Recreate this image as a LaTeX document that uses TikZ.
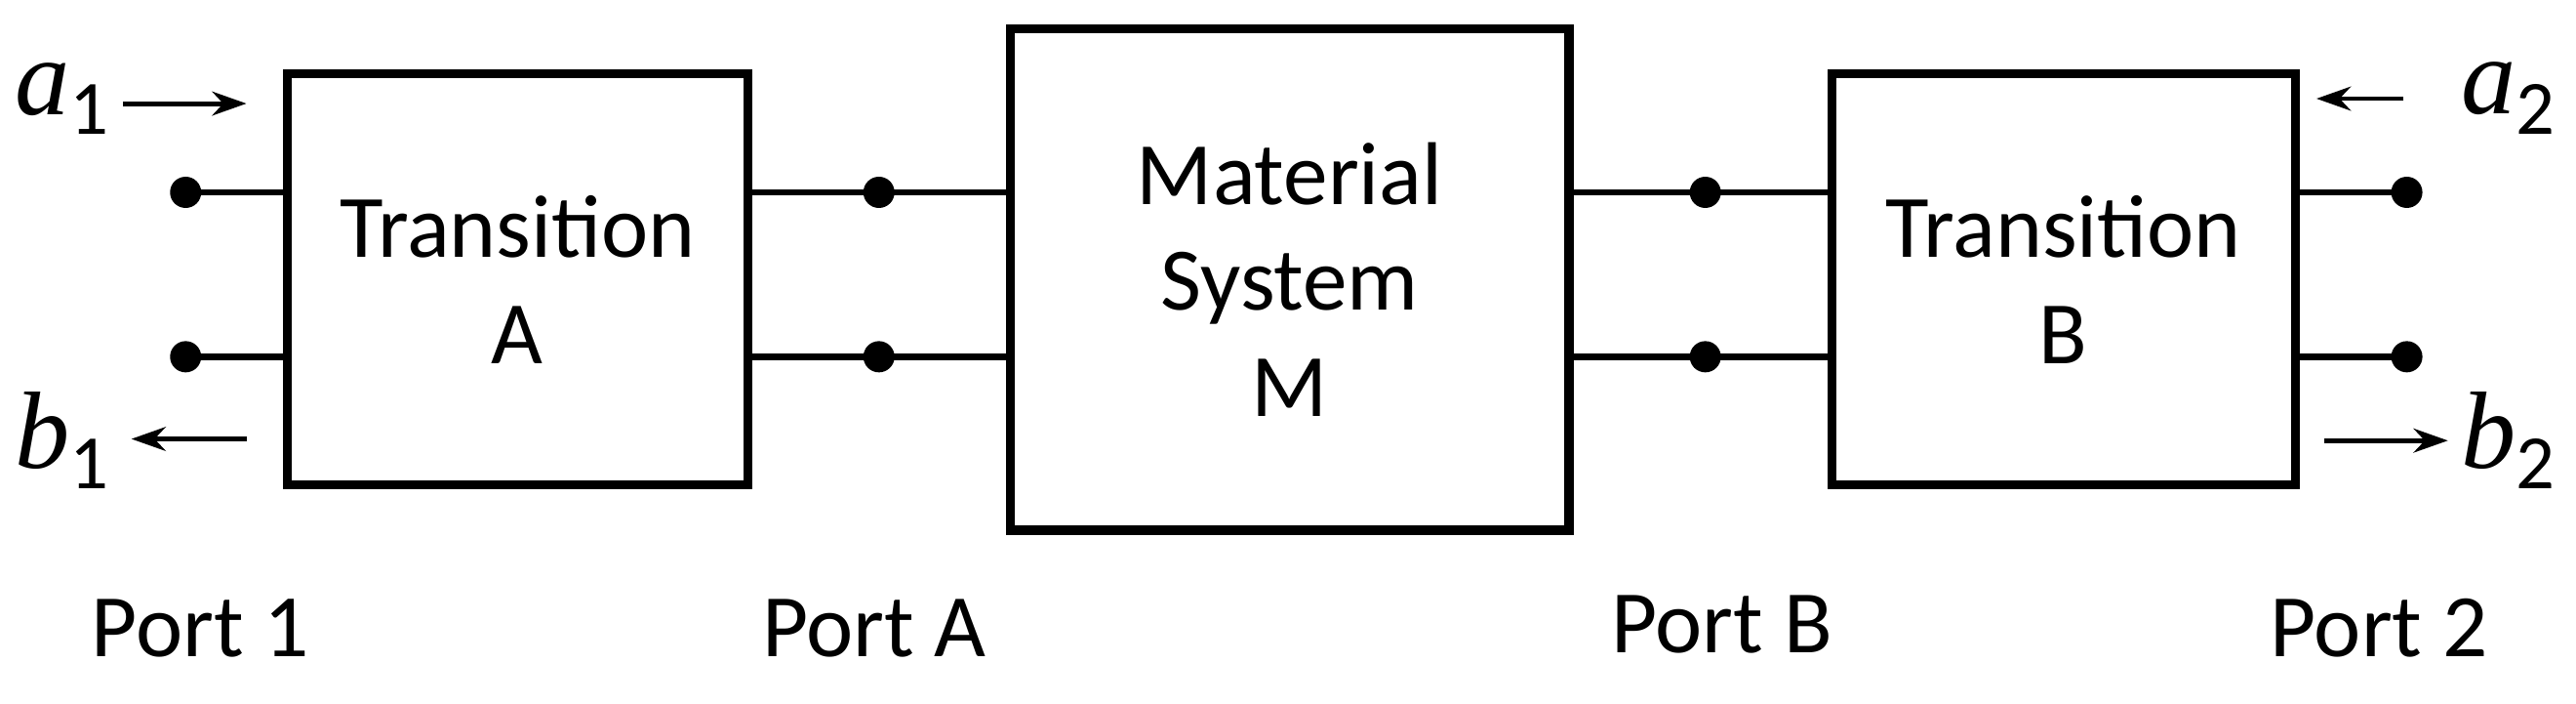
\documentclass[tikz,border=0pt]{standalone}
\usepackage{fontspec}
\setmainfont{Carlito}
\newfontfamily\symfont{Liberation Serif}
\usetikzlibrary{arrows.meta}
\begin{document}
\begin{tikzpicture}[x=0.01684cm,y=-0.01684cm,
  blk/.style={draw,line width=2.6pt,inner sep=0pt,font=\fontsize{26}{31}\selectfont,align=center},
  dotn/.style={circle,fill,inner sep=0pt,minimum size=0.32cm},
  wire/.style={line width=1.8pt},
  arr/.style={line width=1.4pt,-{Stealth[length=10pt,width=7pt]}},
  lbl/.style={font=\fontsize{26}{31}\selectfont},
  sym/.style={font=\symfont\fontsize{32}{36}\selectfont}]
\useasboundingbox (0,0) rectangle (1568,428);
\node[blk,minimum width=280*0.01684cm,minimum height=250*0.01684cm] (A) at (315,170) {Transition\\A};
\node[blk,minimum width=340*0.01684cm,minimum height=305*0.01684cm] (M) at (785,170) {Material\\System\\M};
\node[blk,minimum width=282*0.01684cm,minimum height=250*0.01684cm] (B) at (1256,170) {Transition\\B};
\node[dotn] (p1t) at (113,117) {};
\node[dotn] (p1b) at (113,217) {};
\node[dotn] (pat) at (535,117) {};
\node[dotn] (pab) at (535,217) {};
\node[dotn] (pbt) at (1038,117) {};
\node[dotn] (pbb) at (1038,217) {};
\node[dotn] (p2t) at (1465,117) {};
\node[dotn] (p2b) at (1465,217) {};
\draw[wire] (p1t.center) -- (p1t -| A.west);
\draw[wire] (p1b.center) -- (p1b -| A.west);
\draw[wire] (pat -| A.east) -- (pat -| M.west);
\draw[wire] (pab -| A.east) -- (pab -| M.west);
\draw[wire] (pbt -| M.east) -- (pbt -| B.west);
\draw[wire] (pbb -| M.east) -- (pbb -| B.west);
\draw[wire] (p2t.center) -- (p2t -| B.east);
\draw[wire] (p2b.center) -- (p2b -| B.east);
\node[sym] (a1) at (38,60) {\textit{a}$_{\mathrm{1}}$};
\node[sym] (b1) at (38,268) {\textit{b}$_{\mathrm{1}}$};
\node[sym] (a2) at (1527,60) {\textit{a}$_{\mathrm{2}}$};
\node[sym] (b2) at (1527,268) {\textit{b}$_{\mathrm{2}}$};
\coordinate (a1s) at (75,63); \coordinate (a1e) at (150,63);
\coordinate (b1s) at (150,267); \coordinate (b1e) at (80,267);
\coordinate (a2s) at (1463,60); \coordinate (a2e) at (1410,60);
\coordinate (b2s) at (1415,268); \coordinate (b2e) at (1490,268);
\draw[arr] (a1s) -- (a1e);
\draw[arr] (b1s) -- (b1e);
\draw[arr] (a2s) -- (a2e);
\draw[arr] (b2s) -- (b2e);
\node[lbl] (l1) at (122,382) {Port 1};
\node[lbl] (lA) at (532,382) {Port A};
\node[lbl] (lB) at (1048,380) {Port B};
\node[lbl] (l2) at (1448,382) {Port 2};
\end{tikzpicture}
\end{document}
